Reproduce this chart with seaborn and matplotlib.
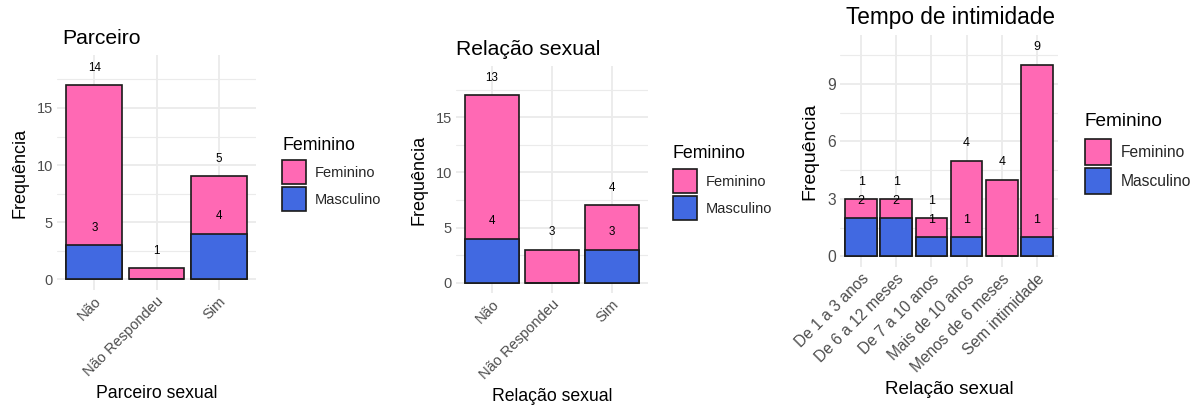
import numpy as np
import pandas as pd
import matplotlib
matplotlib.use("Agg")
import matplotlib.pyplot as plt
from matplotlib.patches import Patch
from matplotlib.ticker import MultipleLocator
import seaborn as sns

sns.set_theme(style="white")
plt.rcParams['font.family'] = ['Liberation Sans', 'DejaVu Sans']

### dados
cat_parceiro = ['Não', 'Não Respondeu', 'Sim']
fem_parceiro = [14, 1, 5]
masc_parceiro = [3, 0, 4]

cat_relacao = ['Não', 'Não Respondeu', 'Sim']
fem_relacao = [13, 3, 4]
masc_relacao = [4, 0, 3]

cat_tempo = ['De 1 a 3 anos', 'De 6 a 12 meses', 'De 7 a 10 anos',
             'Mais de 10 anos', 'Menos de 6 meses', 'Sem intimidade']
fem_tempo = [1, 1, 1, 4, 4, 9]
masc_tempo = [2, 2, 1, 1, 0, 1]

rosa = '#FF69B4'
azul = '#4169E1'
W, H = 1199, 405

fig = plt.figure(figsize=(W / 100, H / 100), dpi=100)


def painel(box, cats, fem, masc, titulo, xlab, step, leg, tdx=0, s=1.0):
    l, t, r, b = box
    ax = fig.add_axes([l / W, 1 - b / H, (r - l) / W, (b - t) / H])
    df = pd.DataFrame({'cat': cats, 'fem': fem, 'masc': masc})
    df['total'] = df['fem'] + df['masc']
    ## empilhado: total (rosa) por baixo, masculino (azul) por cima
    sns.barplot(data=df, x='cat', y='total', color=rosa, saturation=1, width=0.9,
                edgecolor='#1a1a1a', linewidth=1.2, ax=ax, zorder=3)
    sns.barplot(data=df, x='cat', y='masc', color=azul, saturation=1, width=0.9,
                edgecolor='#1a1a1a', linewidth=1.2, ax=ax, zorder=4)
    for i, row in df.iterrows():
        if row['masc'] > 0:
            ax.annotate(str(row['masc']), (i, row['masc']), xytext=(0, 12.5),
                        textcoords='offset points', ha='center', va='center',
                        fontsize=8.4 * s, color='black', zorder=5)
        ax.annotate(str(row['fem']), (i, row['total']), xytext=(0, 12.5),
                    textcoords='offset points', ha='center', va='center',
                    fontsize=8.4 * s, color='black', zorder=5)
    L = df['total'].max() * 1.1
    ax.set_ylim(-0.05 * L, 1.05 * L)
    ax.set_xlim(-0.6, len(cats) - 0.4)
    ax.yaxis.set_major_locator(MultipleLocator(step))
    ax.yaxis.set_minor_locator(MultipleLocator(step / 2))
    ax.grid(True, which='major', color='#EBEBEB', linewidth=1.3, zorder=0)
    ax.grid(True, which='minor', axis='y', color='#EBEBEB', linewidth=0.8, zorder=0)
    ax.set_axisbelow(True)
    sns.despine(ax=ax, left=True, bottom=True)
    ax.tick_params(length=0, labelsize=10.5 * s, labelcolor='#4D4D4D', pad=3)
    plt.setp(ax.get_xticklabels(), rotation=45, ha='right', va='top',
             rotation_mode='anchor')
    ax.set_xlabel(xlab, fontsize=12.7 * s, color='black', labelpad=4)
    ax.set_ylabel('Frequência', fontsize=13 * s, color='black', labelpad=6)
    ax.set_title(titulo, fontsize=15.2 * s, color='black', loc='left', pad=8,
                 x=tdx / (r - l))
    ## legenda
    fig.text(leg[0] / W, 1 - leg[1] / H, 'Feminino', fontsize=12.8 * s,
             color='black', ha='left', va='center')
    handles = [Patch(facecolor=rosa, edgecolor='#1a1a1a', linewidth=1.2, label='Feminino'),
               Patch(facecolor=azul, edgecolor='#1a1a1a', linewidth=1.2, label='Masculino')]
    fig.legend(handles=handles, loc='upper left',
               bbox_to_anchor=(leg[0] / W, 1 - leg[2] / H), frameon=False,
               fontsize=10.5 * s, handlelength=1.67, handleheight=2.19,
               handletextpad=0.6, labelspacing=0.18, borderpad=0, borderaxespad=0)
    return ax


painel((57, 55, 256, 290), cat_parceiro, fem_parceiro, masc_parceiro,
       'Parceiro', 'Parceiro sexual', 5, (282, 145, 160), tdx=5)
painel((456, 66, 648, 293), cat_relacao, fem_relacao, masc_relacao,
       'Relação sexual', 'Relação sexual', 5, (673, 153, 169))
painel((840, 35, 1058, 267), cat_tempo, fem_tempo, masc_tempo,
       'Tempo de intimidade', 'Relação sexual', 3, (1085, 122, 139), tdx=6, s=1.07)

plt.savefig('out.png', dpi=100)
